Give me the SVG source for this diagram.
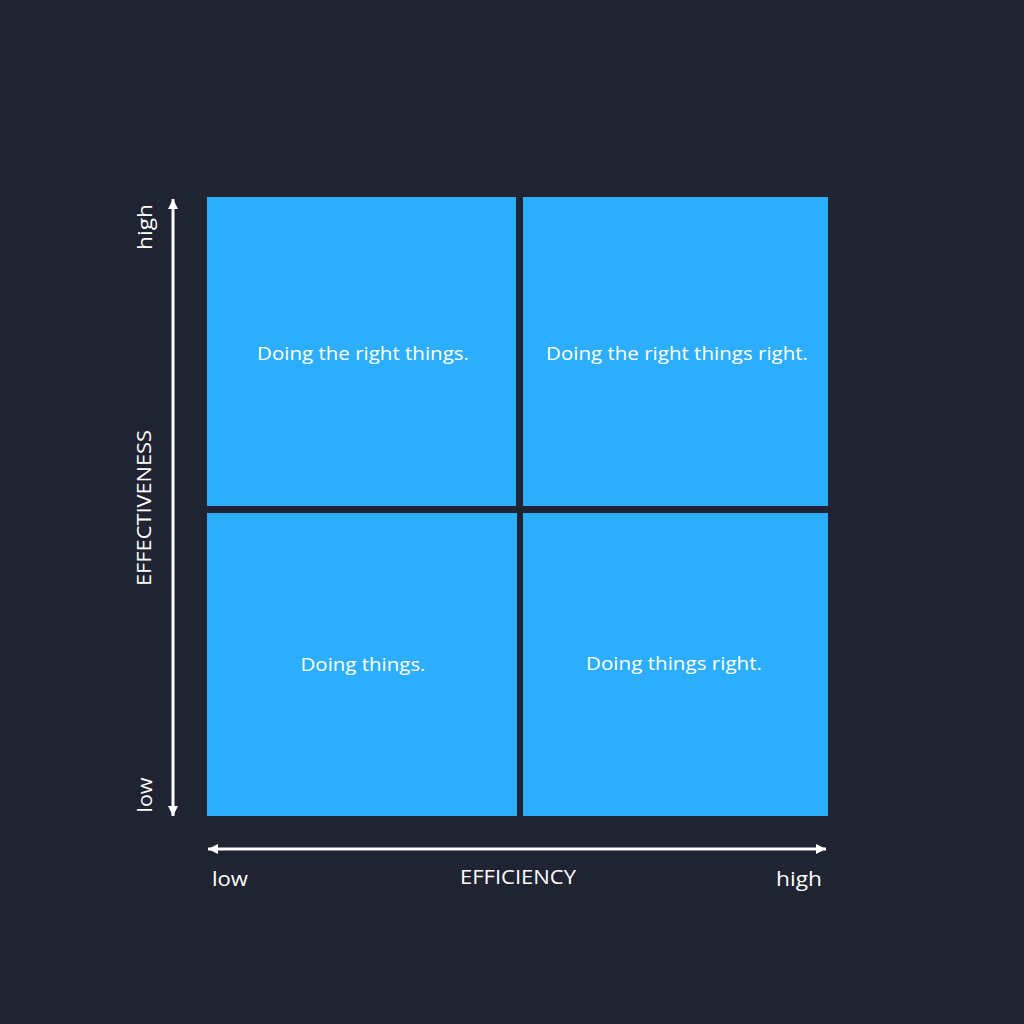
<svg xmlns="http://www.w3.org/2000/svg" width="1024" height="1024" viewBox="0 0 1024 1024">
<style>
.q{fill:#2daefd}
.t{font-family:"Open Sans","Liberation Sans",sans-serif;fill:#ffffff;font-size:18px;font-weight:500;text-anchor:middle;dominant-baseline:central}
.a{font-family:"Open Sans","Liberation Sans",sans-serif;fill:#ffffff;font-size:20px;text-anchor:middle;dominant-baseline:central}
.ax{stroke:#ffffff;stroke-width:3;fill:none}
</style>
<defs>
<marker id="ah" markerWidth="10" markerHeight="10" refX="10" refY="5" orient="auto-start-reverse" markerUnits="userSpaceOnUse">
<path d="M0,0 L10,5 L0,10 Z" fill="#ffffff"/>
</marker>
</defs>
<rect width="1024" height="1024" fill="#1f2332"/>
<g id="q-tl"><rect class="q" x="207" y="197" width="309" height="309"/><text class="t" x="363" y="353" textLength="212" lengthAdjust="spacingAndGlyphs">Doing the right things.</text></g>
<g id="q-tr"><rect class="q" x="523" y="197" width="305" height="309"/><text class="t" x="677" y="353" textLength="262" lengthAdjust="spacingAndGlyphs">Doing the right things right.</text></g>
<g id="q-bl"><rect class="q" x="207" y="513" width="310" height="303"/><text class="t" x="363" y="664" textLength="125" lengthAdjust="spacingAndGlyphs">Doing things.</text></g>
<g id="q-br"><rect class="q" x="523" y="513" width="305" height="303"/><text class="t" x="674" y="663" textLength="176" lengthAdjust="spacingAndGlyphs">Doing things right.</text></g>
<g id="connectors">
<line class="ax" x1="173" y1="816" x2="173" y2="199" marker-start="url(#ah)" marker-end="url(#ah)"/>
<line class="ax" x1="208" y1="849" x2="826" y2="849" marker-start="url(#ah)" marker-end="url(#ah)"/>
</g>
<g id="labels">
<text class="a" transform="translate(144,227) rotate(-90)" textLength="46" lengthAdjust="spacingAndGlyphs">high</text>
<text class="a" transform="translate(144,795) rotate(-90)" textLength="35" lengthAdjust="spacingAndGlyphs">low</text>
<text class="a" transform="translate(143,508) rotate(-90)" textLength="156" lengthAdjust="spacingAndGlyphs">EFFECTIVENESS</text>
<text class="a" x="230" y="878" textLength="36" lengthAdjust="spacingAndGlyphs">low</text>
<text class="a" x="518" y="876" textLength="116" lengthAdjust="spacingAndGlyphs">EFFICIENCY</text>
<text class="a" x="799" y="878" textLength="46" lengthAdjust="spacingAndGlyphs">high</text>
</g>
</svg>
